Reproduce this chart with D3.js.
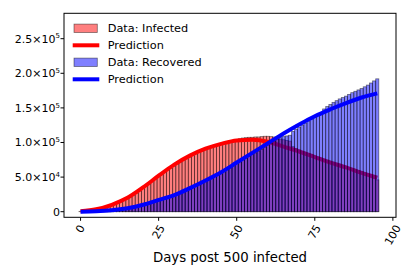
<!DOCTYPE html>
<html>
<head>
<meta charset="utf-8">
<script src="https://cdn.jsdelivr.net/npm/d3@7"></script>
<style>
  body { margin: 0; background: #fff; }
  svg { display: block; font-family: "DejaVu Sans", sans-serif; }
</style>
</head>
<body>
<script>
// days since 500 infected (one bar per day)
const days = d3.range(96);

// observed counts, in thousands
const infected = [
  0.5, 0.7, 1.0, 1.5, 2.3, 3.2, 4.0, 5.0, 6.3, 7.6,
  9.2, 10.8, 12.5, 14.4, 16.6, 19, 21.5, 24, 27, 30,
  33.5, 37, 40, 43.5, 47, 50.5, 54, 57, 60, 63,
  66, 69, 71.5, 74, 76.5, 79, 81, 83.5, 85.5, 87.5,
  89.5, 91, 93, 94.5, 96, 97.5, 99, 100.5, 102, 103,
  104, 105.5, 106.5, 107, 107.5, 107.5, 108, 108, 108.5, 109,
  109, 108.5, 108, 107, 105, 104, 103, 102, 94, 91.5,
  89, 87, 85.5, 84, 82, 80.5, 79, 77.5, 76, 74.5,
  73, 71.5, 70, 68.5, 67, 65.5, 64, 62.5, 61, 59.5,
  58, 56, 54, 51, 48, 46
];
const recovered = [
  0, 0.1, 0.2, 0.4, 0.6, 0.8, 1.0, 1.3, 1.6, 2,
  2.4, 2.9, 3.4, 4, 4.7, 5.4, 6.2, 7, 8, 9,
  10, 11.2, 12.4, 13.7, 15, 16.5, 18, 19.6, 21.2, 23,
  24.8, 26.7, 28.6, 30.6, 32.7, 34.8, 37, 39.2, 41.4, 43.6,
  45.8, 48, 50.3, 52.6, 55, 57.4, 60, 62.5, 65, 67.5,
  70, 72.5, 75, 77.5, 80, 82.5, 85, 87.5, 90, 93,
  96, 99, 102, 105, 107, 108.5, 109.5, 110.5, 116, 119,
  122, 125, 128, 131, 134, 137, 140, 143, 148.5, 152,
  155, 158, 160.5, 163, 165, 167, 169.5, 172, 174, 176,
  178, 180.5, 183, 186, 189, 192
];

// model predictions, in thousands, every 5 days
const predDays = [0, 5, 10, 15, 20, 25, 30, 35, 40, 45, 50, 55, 60, 65, 70, 75, 80, 85, 90, 95];
const predInfected = [0.5, 3.5, 10, 20, 35, 52, 68, 81, 91, 98, 103, 104, 101, 94, 87, 79, 71, 64, 56, 49];
const predRecovered = [0, 0.5, 2, 5, 10, 17, 24, 34, 45, 57, 71, 85, 99, 113, 126, 138, 148, 157, 165, 171];

const xTicks = [0, 25, 50, 75, 100];
const yTicks = [0, 5e4, 1e5, 1.5e5, 2e5, 2.5e5];
const yMantissa = ["0", "5.0", "1.0", "1.5", "2.0", "2.5"];
const yExponent = ["", "4", "5", "5", "5", "5"];

const w = 415;
const h = 277;

const svg = d3.select("body")
  .append("svg")
  .attr("width", w)
  .attr("height", h);

const x = d3.scaleLinear().domain([-5.3, 101]).range([64, 396]);
const y = d3.scaleLinear().domain([-8100, 286700]).range([217.3, 13.3]);
const bw = x(1) - x(0);

function bars(data, color) {
  svg.append("g")
    .selectAll("rect")
    .data(data)
    .join("rect")
    .attr("x", (d, i) => x(days[i] - 0.5))
    .attr("width", bw)
    .attr("y", d => y(d * 1000))
    .attr("height", d => y(0) - y(d * 1000))
    .attr("fill", color)
    .attr("fill-opacity", 0.5)
    .attr("stroke", "#000")
    .attr("stroke-opacity", 0.5)
    .attr("stroke-width", 0.8);
}

const line = d3.line()
  .x((d, i) => x(predDays[i]))
  .y(d => y(d * 1000))
  .curve(d3.curveMonotoneX);

function predLine(data, color) {
  svg.append("path")
    .datum(data)
    .attr("d", line)
    .attr("fill", "none")
    .attr("stroke", color)
    .attr("stroke-width", 4);
}

// draw order: infected bars, red line, recovered bars, blue line
bars(infected, "#ff0000");
predLine(predInfected, "#ff0000");
bars(recovered, "#0000ff");
predLine(predRecovered, "#0000ff");

// frame
svg.append("rect")
  .attr("x", 64).attr("y", 13.3)
  .attr("width", 332).attr("height", 204)
  .attr("fill", "none")
  .attr("stroke", "#000")
  .attr("stroke-width", 1);

// x ticks
const xt = svg.append("g");
xt.selectAll("line")
  .data(xTicks)
  .join("line")
  .attr("x1", d => x(d)).attr("x2", d => x(d))
  .attr("y1", 217.3).attr("y2", 220.8)
  .attr("stroke", "#000");
xt.selectAll("text")
  .data(xTicks)
  .join("text")
  .attr("text-anchor", "middle")
  .attr("dominant-baseline", "central")
  .attr("font-size", 11)
  .attr("transform", d => {
    const tw = String(d).length * 7;
    const cy = 224 + (tw * 0.866 + 8 * 0.5) / 2;
    return `translate(${x(d)},${cy}) rotate(-60)`;
  })
  .text(d => d);

// y ticks
const yt = svg.append("g");
yt.selectAll("line")
  .data(yTicks)
  .join("line")
  .attr("x1", 60.5).attr("x2", 64)
  .attr("y1", d => y(d)).attr("y2", d => y(d))
  .attr("stroke", "#000");
const ylab = yt.selectAll("text")
  .data(yTicks)
  .join("text")
  .attr("x", 60)
  .attr("y", d => y(d) + 4)
  .attr("text-anchor", "end")
  .attr("font-size", 11);
ylab.append("tspan")
  .text((d, i) => i === 0 ? yMantissa[i] : yMantissa[i] + "\u00d710");
ylab.append("tspan")
  .attr("font-size", 7)
  .attr("dy", -4.3)
  .text((d, i) => yExponent[i]);

// x label, centred on the axes
svg.append("text")
  .attr("x", 230)
  .attr("y", 261.7)
  .attr("text-anchor", "middle")
  .attr("font-size", 13.3)
  .text("Days post 500 infected");

// legend
const legendItems = [
  {label: "Data: Infected", color: "#ff0000", type: "patch"},
  {label: "Prediction", color: "#ff0000", type: "line"},
  {label: "Data: Recovered", color: "#0000ff", type: "patch"},
  {label: "Prediction", color: "#0000ff", type: "line"}
];
const lg = svg.append("g")
  .selectAll("g")
  .data(legendItems)
  .join("g")
  .attr("transform", (d, i) => `translate(0,${28.3 + i * 17})`);
lg.filter(d => d.type === "patch")
  .append("rect")
  .attr("x", 74).attr("y", -4.2)
  .attr("width", 23.3).attr("height", 8.4)
  .attr("fill", d => d.color)
  .attr("fill-opacity", 0.5)
  .attr("stroke", "#000")
  .attr("stroke-opacity", 0.5)
  .attr("stroke-width", 0.8);
lg.filter(d => d.type === "line")
  .append("line")
  .attr("x1", 72.7).attr("x2", 99.3)
  .attr("y1", 0).attr("y2", 0)
  .attr("stroke", d => d.color)
  .attr("stroke-width", 4);
lg.append("text")
  .attr("x", 107.7)
  .attr("y", 4)
  .attr("font-size", 11.3)
  .text(d => d.label);
</script>
</body>
</html>
